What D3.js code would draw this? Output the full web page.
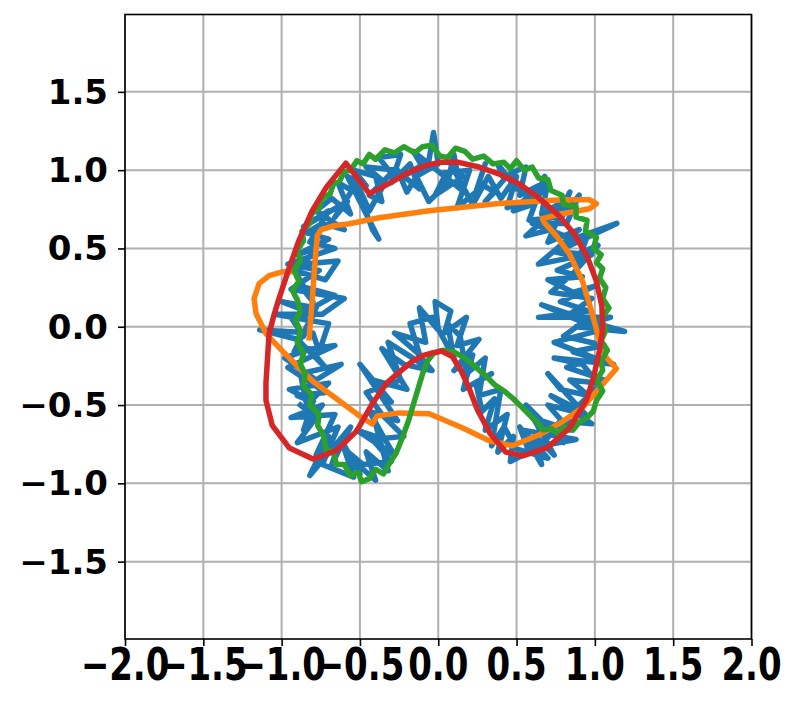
<!DOCTYPE html>
<html><head><meta charset="utf-8">
<script src="https://cdn.jsdelivr.net/npm/d3@7"></script>
<style>body{margin:0;background:#fff}</style>
</head><body><svg id="c" width="800" height="705"></svg>
<script>
const xTicks=[-2,-1.5,-1,-0.5,0,0.5,1,1.5,2];
const yTicks=[-1.5,-1,-0.5,0,0.5,1,1.5];

const blue=[[-0.80,-0.48],[-0.95,-0.40],[-0.70,-0.36],[-0.84,-0.50],[-0.88,-0.30],[-0.62,-0.24],[-0.78,-0.34],[-0.98,-0.20],[-0.82,-0.14],[-0.72,-0.26],[-0.90,-0.08],[-1.14,-0.02],[-0.80,-0.04],[-0.76,-0.16],[-0.70,0.02],[-0.94,0.06],[-0.86,-0.06],[-0.78,0.12],[-1.00,0.16],[-0.84,0.10],[-0.66,0.20],[-0.88,0.26],[-0.80,0.16],[-0.92,0.36],[-0.72,0.30],[-0.64,0.42],[-0.86,0.40],[-0.78,0.50],[-0.90,0.46],[-0.70,0.56],[-0.84,0.60],[-0.74,0.66],
[-0.60,0.62],[-0.78,0.74],[-0.68,0.82],[-0.56,0.72],[-0.64,0.92],[-0.50,0.84],[-0.42,0.62],[-0.38,0.56],[-0.48,0.76],[-0.58,0.96],[-0.46,0.90],[-0.54,1.00],[-0.40,0.96],[-0.36,0.80],[-0.44,0.84],[-0.30,0.98],[-0.38,1.08],[-0.24,1.10],[-0.30,0.92],
[-0.18,1.04],[-0.12,0.88],[-0.22,0.96],[-0.06,1.06],[-0.03,1.24],[0.00,1.04],[-0.14,0.96],[-0.06,0.80],[0.06,0.92],[0.10,1.10],[0.14,0.88],[0.02,0.98],[0.20,1.00],[0.12,0.76],[0.24,0.86],[0.30,1.04],[0.26,0.92],[0.36,0.86],[0.30,0.80],[0.42,0.94],[0.38,1.04],[0.50,0.88],[0.46,0.98],[0.56,1.02],[0.52,0.84],
[0.64,0.90],[0.48,0.74],[0.60,0.78],[0.70,0.92],[0.66,0.72],[0.80,0.80],[0.56,0.58],[0.72,0.62],[0.90,0.84],[0.82,0.66],[0.60,0.66],[0.86,0.56],[1.14,0.66],[0.80,0.50],[0.96,0.60],[0.90,0.44],[0.74,0.48],[0.98,0.46],[0.76,0.36],
[0.92,0.32],[0.70,0.30],[0.86,0.22],[1.00,0.26],[0.78,0.16],[0.96,0.10],[0.64,0.06],[1.10,0.06],[0.88,0.00],[1.19,-0.03],[0.94,0.04],[0.80,-0.06],[1.06,-0.12],[0.86,-0.16],[1.12,-0.24],[0.74,-0.20],[0.92,-0.24],[1.02,-0.36],[0.84,-0.34],[0.96,-0.44],[0.78,-0.40],[0.70,-0.30],
[0.94,-0.56],[0.70,-0.50],[0.84,-0.66],[0.60,-0.58],[0.80,-0.74],[0.56,-0.50],[0.74,-0.82],[0.62,-0.70],[0.66,-0.88],[0.52,-0.64],[0.58,-0.80],[0.46,-0.86],[0.48,-0.70],[0.38,-0.80],[0.44,-0.56],[0.30,-0.66],[0.36,-0.46],[0.28,-0.54],
[0.24,-0.36],[0.34,-0.30],[0.16,-0.40],[0.22,-0.18],[0.10,-0.28],[0.26,-0.08],[0.12,-0.12],[0.18,0.06],[0.04,-0.04],[0.08,0.10],[-0.02,0.16],[0.00,-0.02],[-0.12,0.12],[-0.08,-0.10],[-0.28,-0.04],[-0.14,-0.16],[-0.04,-0.28],[-0.22,-0.24],[-0.36,-0.14],[-0.20,-0.40],[-0.42,-0.34],[-0.30,-0.48],[-0.50,-0.24],[-0.26,-0.60],
[-0.44,-0.54],[-0.34,-0.72],[-0.52,-0.66],[-0.28,-0.82],[-0.40,-0.62],[-0.32,-0.92],[-0.46,-0.80],[-0.40,-0.98],[-0.56,-0.84],[-0.50,-0.94],[-0.62,-0.72],[-0.68,-0.88],[-0.56,-0.64],[-0.82,-0.95],[-0.70,-0.70],[-0.78,-0.82],[-0.66,-0.56],[-0.94,-0.58],[-0.74,-0.50],[-0.86,-0.66],[-0.80,-0.48],
[-0.90,-0.44],[-0.72,-0.42],[-0.96,-0.26],[-0.66,-0.12],[-0.92,-0.16],[-0.82,0.04],[-1.04,0.08],[-0.74,0.08],[-0.60,0.18],[-0.94,0.24],[-0.76,0.36],[-0.96,0.40],[-0.66,0.50],[-0.82,0.54],[-0.70,0.74],[-0.86,0.64],[-0.58,0.80],[-0.66,0.70],[-0.52,0.92],[-0.44,0.74],[-0.34,0.92],[-0.46,1.02],[-0.26,1.00],[-0.20,0.86],[-0.10,1.02],[-0.16,1.12],[0.04,0.96],[-0.02,0.84],[0.16,0.96],[0.08,1.04],[0.22,0.78],[0.32,0.96],[0.40,0.82],[0.50,0.96],[0.44,0.76],[0.62,0.82],[0.68,0.96],[0.58,0.68],[0.76,0.70],[0.84,0.86],[0.70,0.54],[0.90,0.62],[0.64,0.40],[0.84,0.44],[1.02,0.52],[0.86,0.34],[0.72,0.22],[0.98,0.18],[0.84,0.08],[0.66,0.14],[1.04,-0.02],[0.74,-0.10],[1.00,-0.20],[0.82,-0.26],[1.06,-0.34],[0.88,-0.52],[0.72,-0.44],[0.98,-0.62],[0.78,-0.60],[0.66,-0.76],[0.88,-0.72],[0.54,-0.66],[0.70,-0.84],[0.50,-0.78],[0.42,-0.64],[0.34,-0.76],[0.40,-0.40],[0.26,-0.44],[0.30,-0.20],[0.18,-0.30],[0.14,-0.06],[0.06,0.02],[0.10,-0.20],[-0.04,0.06],[-0.18,0.02],[-0.10,-0.24],[-0.32,-0.10],[-0.24,-0.34],[-0.46,-0.42],[-0.36,-0.56],[-0.22,-0.70],[-0.42,-0.72],[-0.30,-0.86],[-0.48,-0.88],[-0.60,-0.78],[-0.54,-0.96],[-0.74,-0.88],[-0.64,-0.64],[-0.90,-0.74],[-0.78,-0.58],[-0.88,-0.50]];

const orange=[[-0.824,-0.070],[-0.805,0.166],[-0.786,0.422],[-0.773,0.581],[-0.748,0.620],[-0.665,0.645],[-0.569,0.658],[-0.377,0.696],[-0.058,0.741],[0.371,0.786],[0.792,0.811],[0.965,0.811],[1.010,0.786],[0.965,0.754],[0.792,0.722],[0.665,0.690],[0.677,0.665],[0.754,0.581],[0.837,0.466],[0.920,0.294],[0.978,0.102],[1.029,-0.089],[1.073,-0.198],[1.137,-0.268],[1.029,-0.390],[0.920,-0.518],[0.792,-0.607],[0.645,-0.690],[0.473,-0.760],[0.326,-0.728],[0.153,-0.645],[-0.058,-0.556],[-0.249,-0.550],[-0.390,-0.569],[-0.422,-0.620],[-0.486,-0.581],[-0.633,-0.473],[-0.805,-0.345],[-0.997,-0.153],[-1.099,-0.045],[-1.163,0.083],[-1.176,0.179],[-1.144,0.275],[-1.080,0.326],[-0.997,0.351],[-0.927,0.351]];

const green=[[-0.90,0.17],[-0.93,0.23],[-0.89,0.29],[-0.92,0.36],[-0.88,0.42],[-0.90,0.49],[-0.86,0.55],[-0.87,0.61],[-0.82,0.66],[-0.81,0.72],[-0.76,0.76],[-0.74,0.82],[-0.69,0.85],[-0.67,0.91],[-0.63,0.93],[-0.60,0.99],[-0.56,1.00],[-0.52,1.06],[-0.48,1.04],[-0.44,1.10],[-0.40,1.07],[-0.34,1.13],[-0.28,1.11],[-0.22,1.15],[-0.15,1.11],[-0.10,1.15],[-0.04,1.16],[0.01,1.09],[0.06,1.08],[0.11,1.14],[0.17,1.12],[0.22,1.07],[0.29,1.09],[0.35,1.04],[0.42,1.05],[0.46,1.01],[0.50,1.06],[0.55,1.00],[0.60,1.02],[0.64,0.95],[0.70,0.94],[0.72,0.87],[0.79,0.84],[0.80,0.78],[0.88,0.77],[0.88,0.70],[0.95,0.68],[0.94,0.61],[1.01,0.57],[0.99,0.50],[1.04,0.46],[1.01,0.41],[1.05,0.37],[1.03,0.31],[1.07,0.25],[1.05,0.18],[1.09,0.12],[1.04,0.05],[1.07,-0.02],[1.04,-0.09],[1.08,-0.15],[1.04,-0.22],[1.05,-0.28],[1.01,-0.34],[1.05,-0.41],[1.01,-0.47],[0.99,-0.54],[0.95,-0.58],[0.90,-0.61],[0.86,-0.66],[0.81,-0.64],[0.76,-0.68],[0.72,-0.65],[0.67,-0.66],[0.63,-0.61],[0.58,-0.56],[0.53,-0.51],[0.48,-0.46],[0.42,-0.41],[0.36,-0.37],[0.30,-0.31],[0.23,-0.25],[0.17,-0.20],[0.10,-0.16],[0.03,-0.15],[-0.03,-0.17],[-0.07,-0.22],[-0.10,-0.30],[-0.13,-0.40],[-0.16,-0.50],[-0.19,-0.60],[-0.23,-0.71],[-0.27,-0.81],[-0.31,-0.87],[-0.35,-0.94],[-0.40,-0.91],[-0.44,-0.97],[-0.49,-0.99],[-0.51,-0.93],[-0.56,-0.95],[-0.60,-0.88],[-0.65,-0.88],[-0.67,-0.80],[-0.72,-0.78],[-0.73,-0.70],[-0.77,-0.63],[-0.76,-0.56],[-0.82,-0.50],[-0.81,-0.43],[-0.86,-0.38],[-0.85,-0.30],[-0.88,-0.24],[-0.86,-0.17],[-0.90,-0.10],[-0.88,-0.03],[-0.91,0.04],[-0.88,0.10],[-0.90,0.17]];

const red=[[-0.44,0.85],[-0.36,0.89],[-0.20,0.98],[-0.08,1.03],[0.01,1.05],[0.13,1.05],[0.26,1.02],[0.39,0.975],[0.52,0.91],[0.645,0.82],[0.77,0.71],[0.87,0.59],[0.95,0.45],[1.01,0.29],[1.045,0.13],[1.05,-0.02],[1.03,-0.15],[0.99,-0.33],[0.945,-0.47],[0.84,-0.645],[0.70,-0.77],[0.54,-0.825],[0.43,-0.80],[0.33,-0.68],[0.25,-0.53],[0.20,-0.40],[0.15,-0.29],[0.09,-0.19],[0.02,-0.155],[-0.03,-0.165],[-0.10,-0.185],[-0.17,-0.225],[-0.26,-0.30],[-0.33,-0.36],[-0.42,-0.49],[-0.52,-0.665],[-0.65,-0.79],[-0.80,-0.845],[-0.95,-0.775],[-1.06,-0.63],[-1.10,-0.47],[-1.10,-0.36],[-1.09,-0.20],[-1.08,-0.045],[-1.05,0.07],[-1.02,0.17],[-0.95,0.38],[-0.89,0.55],[-0.805,0.74],[-0.715,0.89],[-0.59,1.045],[-0.44,0.85]];

const series=[{name:"blue",data:blue,color:"#1f77b4"},{name:"orange",data:orange,color:"#ff7f0e"},{name:"green",data:green,color:"#2ca02c"},{name:"red",data:red,color:"#d62728"}];

const L=125,R=751.5,T=14.5,B=639;
const x=d3.scaleLinear().domain([-2,2]).range([L,R]);
const y=d3.scaleLinear().domain([-1.994,1.994]).range([B,T]);
const svg=d3.select("#c");
const fmt=d3.format(".1f");

svg.append("defs").append("clipPath").attr("id","clip").append("rect")
  .attr("x",L).attr("y",T).attr("width",R-L).attr("height",B-T);

const grid=svg.append("g");
grid.selectAll(".gx").data(xTicks).enter().append("line")
  .attr("x1",d=>x(d)).attr("x2",d=>x(d)).attr("y1",T).attr("y2",B)
  .attr("stroke","#b0b0b0").attr("stroke-width",2);
grid.selectAll(".gy").data(yTicks).enter().append("line")
  .attr("x1",L).attr("x2",R).attr("y1",d=>y(d)).attr("y2",d=>y(d))
  .attr("stroke","#b0b0b0").attr("stroke-width",2);

const line=d3.line().x(d=>x(d[0])).y(d=>y(d[1]));
const plot=svg.append("g").attr("clip-path","url(#clip)");
plot.selectAll("path").data(series).enter().append("path")
  .attr("d",d=>line(d.data)).attr("fill","none").attr("stroke",d=>d.color)
  .attr("stroke-width",5.5).attr("stroke-linejoin","round").attr("stroke-linecap","square");

const ax=svg.append("g").attr("transform",`translate(0,${B})`)
  .call(d3.axisBottom(x).tickValues(xTicks).tickSize(7).tickSizeOuter(0).tickFormat(""));
const ay=svg.append("g").attr("transform",`translate(${L},0)`)
  .call(d3.axisLeft(y).tickValues(yTicks).tickSize(7).tickSizeOuter(0).tickFormat(""));
[ax,ay].forEach(g=>{g.selectAll("line").attr("stroke","#000").attr("stroke-width",1.6);g.select(".domain").remove();});
svg.append("rect").attr("x",L).attr("y",T).attr("width",R-L).attr("height",B-T)
  .attr("fill","none").attr("stroke","#000").attr("stroke-width",1.6);

svg.append("g").selectAll("g").data(xTicks).enter().append("g")
  .attr("transform",d=>`translate(${x(d)},664)`)
  .append("text").attr("transform","scale(1,1.3)")
  .attr("text-anchor","middle").attr("dominant-baseline","central")
  .style("font-family","DejaVu Sans").style("font-weight","bold").style("font-size","34px")
  .text(d=>fmt(d));
svg.append("g").selectAll("g").data(yTicks).enter().append("g")
  .attr("transform",d=>`translate(108,${y(d)})`)
  .append("text")
  .attr("text-anchor","end").attr("dominant-baseline","central")
  .style("font-family","DejaVu Sans").style("font-weight","bold").style("font-size","34px")
  .text(d=>fmt(d));
</script></body></html>
